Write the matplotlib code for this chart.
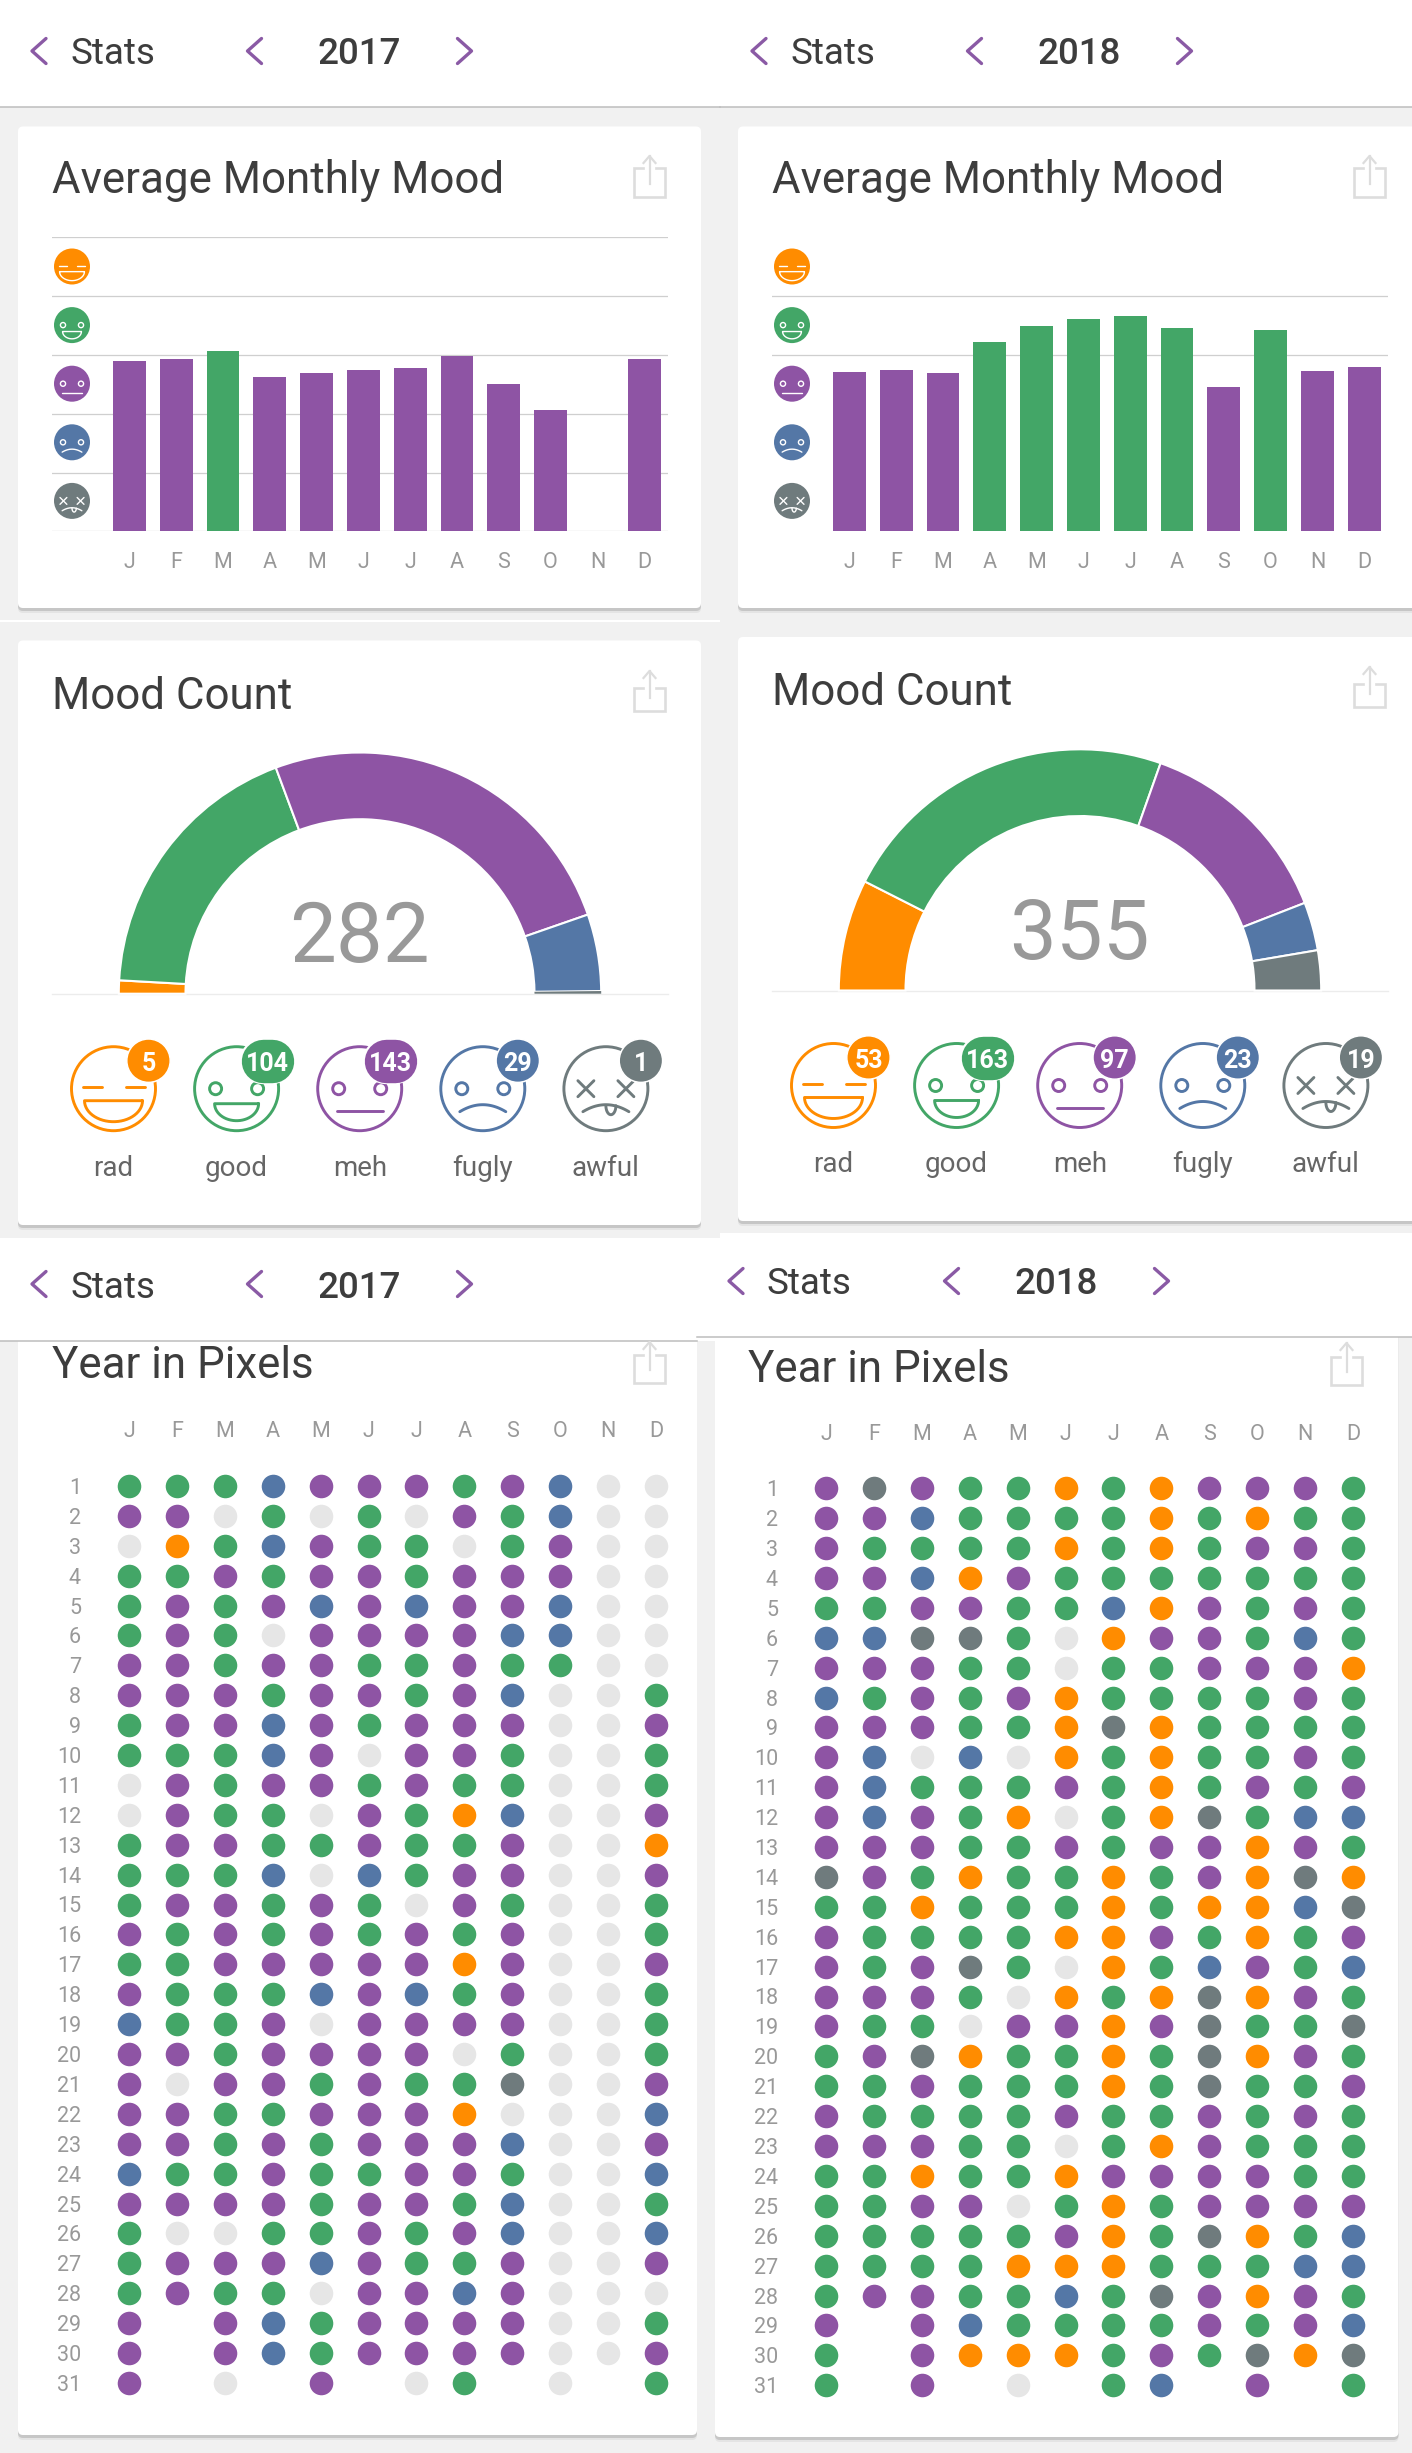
import numpy as np
import matplotlib
matplotlib.use("Agg")
import matplotlib.pyplot as plt
from matplotlib.patches import Circle, FancyBboxPatch, Rectangle

plt.rcParams['font.family'] = ['Roboto', 'DejaVu Sans']

W, H = 1412, 2453

MONTHS = ['J', 'F', 'M', 'A', 'M', 'J', 'J', 'A', 'S', 'O', 'N', 'D']
MOODS = ['rad', 'good', 'meh', 'fugly', 'awful']

ORANGE = '#FF8C00'
GREEN = '#43A667'
PURPLE = '#8E54A4'
BLUE = '#5477A6'
GRAY = '#6F7B7D'
EMPTY = '#E6E6E6'
MOOD_COLORS = [ORANGE, GREEN, PURPLE, BLUE, GRAY]
PIXEL_COLORS = {'R': ORANGE, 'G': GREEN, 'M': PURPLE, 'F': BLUE, 'A': GRAY, '_': EMPTY}

BG = '#F1F1F1'
DARK = '#3D3D3D'
CHEVRON = '#8A5AA5'

# average mood per month, 0 = bottom of "awful" band, 5 = top of "rad" band
AVG_2017 = [2.89, 2.92, 3.06, 2.63, 2.69, 2.735, 2.78, 2.98, 2.50, 2.07, 0, 2.93]
AVG_2018 = [2.715, 2.735, 2.695, 3.21, 3.49, 3.61, 3.66, 3.45, 2.45, 3.42, 2.72, 2.80]

COUNT_2017 = [5, 104, 143, 29, 1]
COUNT_2018 = [53, 163, 97, 23, 19]

# one string per day, one letter per month. "." = the day does not exist
PIXELS_2017 = [
    "GGGFMMMGMF__", "MM_G_G_MGF__", "_RGFMGG_GM__", "GGMGMMGMMM__",
    "GMGMFMFMMF__", "GMG_MMMMFF__", "MMGMMGGMGG__", "MMMGMMGMF__G",
    "GMMFMGMMM__M", "GGGFM_MMG__G", "_MGMMGMGG__G", "_MGG_MGRF__M",
    "GMMGGMGGM__R", "GGGF_FGMM__M", "GMMGMG_MG__G", "MGMGMGMGM__G",
    "GGMMMMMRM__M", "MGGGFMFGM__G", "FGGM_MMMM__G", "MMGMMMM_G__G",
    "M_MMGMGGA__M", "MMGGMMMR___F", "MMGMGMMMF__M", "FGGMGGMMG__F",
    "MMMMGMMGF__G", "G__GGMGMF__F", "GMMMFMGGM__M", "GMGG_MMFM___",
    "M.MFGMMMM__G", "M.MFGMMMM__M", "M._.M._G._.G",
]

PIXELS_2018 = [
    "MAMGGRGRMMMG", "MMFGGGGRGRGG", "MGGGGRGRGMMG", "MMFRMGGGGGGG",
    "GGMMGGFRMGMG", "FFAAG_RMMGFG", "MMMGG_GGMMMR", "FGMGMRGGGGMG",
    "MMMGGRARGGGG", "MF_F_RGRGGMG", "MFGGGMGRGMGM", "MFMGR_GRAGFF",
    "MMMGGMGMMRMG", "AMGRGGRGMRAR", "GGRGGGRGRRFA", "MGGGGRRMGRGM",
    "MGMAG_RGFMGF", "MMMG_RGRARMG", "MGG_MMRMAGGA", "GMARGGRGARMG",
    "GGMGGGRGAGGM", "MGGGGMGGMGMG", "MMMGG_GRMGGG", "GGRGGRMMMMGG",
    "GGMM_GRGMMMM", "GGGGGMRGARGF", "GGGGRRRGGGFF", "GMMGGFGAMRMG",
    "M.MFGGGGMGMF", "G.MRRRGMGARA", "G.M._.GF.M.G",
]

fig = plt.figure(figsize=(W / 100, H / 100), dpi=100, facecolor=BG)


def px_axes(left, top, right, bottom, zorder=2):
    a = fig.add_axes([left / W, 1 - bottom / H, (right - left) / W, (bottom - top) / H], zorder=zorder)
    a.patch.set_alpha(0)
    return a


ui = px_axes(0, 0, W, H, zorder=1)
ui.set_xlim(0, W)
ui.set_ylim(H, 0)
ui.axis('off')


def card(x0, y0, x1, y1):
    for off, col in [(5, '#E4E4E4'), (3, '#C6C6C6')]:
        ui.add_patch(FancyBboxPatch((x0, y0 + off), x1 - x0, y1 - y0, boxstyle='round,pad=0,rounding_size=5',
                                    fc=col, ec='none', zorder=1))
    ui.add_patch(FancyBboxPatch((x0, y0), x1 - x0, y1 - y0, boxstyle='round,pad=0,rounding_size=5',
                                fc='white', ec='none', zorder=1.1))


def chevron(x, y, direction):
    ui.plot([x - direction * 7, x + direction * 7, x - direction * 7], [y - 12.5, y, y + 12.5],
            color=CHEVRON, lw=2.4, solid_capstyle='round', solid_joinstyle='round', zorder=5)


def header(x0, x1, top, bottom, dx, cy, year, line_x0=None, line_x1=None):
    ui.add_patch(Rectangle((x0, top), x1 - x0, bottom - top, fc='white', ec='none', zorder=4))
    ui.plot([x0 if line_x0 is None else line_x0, x1 if line_x1 is None else line_x1], [bottom, bottom],
            color='#BDBDBD', lw=1.1, zorder=5)
    chevron(39 + dx, cy, -1)
    chevron(254.5 + dx, cy, -1)
    chevron(464.5 + dx, cy, 1)
    ui.text(70 + dx, cy + 13.5, 'Stats', fontsize=26.5, color=DARK, va='baseline', zorder=5)
    ui.text(359 + dx, cy + 13.5, year, fontsize=26.5, fontweight='medium', color=DARK, ha='center', va='baseline', zorder=5)


def share(x, box_top, box_bottom, arrow_top, zorder=6):
    col = '#DDDDDD'
    xs = [x + 9, x, x, x + 31, x + 31, x + 22]
    ys = [box_top, box_top, box_bottom, box_bottom, box_top, box_top]
    ui.plot(xs, ys, color=col, lw=1.9, solid_joinstyle='miter', zorder=zorder)
    ui.plot([x + 15.5, x + 15.5], [arrow_top, box_bottom - 13], color=col, lw=1.6, zorder=zorder)
    ui.plot([x + 9.5, x + 15.5, x + 21.5], [arrow_top + 7, arrow_top, arrow_top + 7], color=col, lw=1.6, zorder=zorder)


def face(cx, cy, r, mood, color, filled):
    s = r / 42
    lw = 1.0 if filled else 2.1
    line = 'white' if filled else color
    z = 3

    def pl(x, y):
        ui.plot(cx + np.asarray(x) * s, cy + np.asarray(y) * s, color=line, lw=lw, zorder=z, solid_capstyle='round')

    if filled:
        ui.add_patch(Circle((cx, cy), r, fc=color, ec='none', zorder=z))
    else:
        ui.add_patch(Circle((cx, cy), r, fc='white', ec=color, lw=lw, zorder=z))
    t = np.linspace(0, np.pi, 30)
    if mood == 'rad':
        pl([-31, -12], [-2, -2])
        pl([12, 31], [-2, -2])
        pl(np.r_[29 * np.cos(t), 29], np.r_[12 + 21 * np.sin(t), 12])
    else:
        if mood == 'awful':
            for ex in (-20, 20):
                pl([ex - 8, ex + 8], [-8, 8])
                pl([ex - 8, ex + 8], [8, -8])
        else:
            for ex in (-21, 21):
                ui.add_patch(Circle((cx + ex * s, cy), 6 * s, fc='none', ec=line, lw=lw, zorder=z))
        if mood == 'good':
            pl(np.r_[22 * np.cos(t), 22], np.r_[15 + 17 * np.sin(t), 15])
        elif mood == 'meh':
            pl([-23, 23], [22, 22])
        else:
            x = np.linspace(-23, 23, 30)
            pl(x, 23 - 7 * (1 - (x / 23) ** 2))
            if mood == 'awful':
                pl(5 + 5 * np.cos(t), 17 + 9 * np.sin(t))


def badge(cx, cy, value, color):
    txt = str(value)
    r = 21.7
    if len(txt) == 3:
        # pill: thick line with round caps, widths are in points
        half = 4.6
        ui.plot([cx - half, cx + half], [cy, cy], color='white', lw=(2 * r + 3) * 0.72, solid_capstyle='round', zorder=3.4)
        ui.plot([cx - half, cx + half], [cy, cy], color=color, lw=2 * r * 0.72, solid_capstyle='round', zorder=3.5)
    else:
        ui.add_patch(Circle((cx, cy), r, fc=color, ec='white', lw=1.1, zorder=3.5))
    ui.text(cx, cy + 0.5, txt, color='white', fontsize=18, fontweight='bold', ha='center', va='center_baseline', zorder=4)


def bar_panel(values, left, first_x, grid_levels):
    spacing = 46.8
    x_min = (left - first_x) / spacing
    x_max = x_min + 616 / spacing
    a = px_axes(left, 237, left + 616, 531.4)
    colors = [GREEN if v >= 3 else PURPLE for v in values]
    a.bar(range(12), values, width=0.705, color=colors, zorder=3)
    a.set_xlim(x_min, x_max)
    a.set_ylim(0, 5)
    a.set_xticks(range(12), MONTHS)
    a.set_yticks(grid_levels)
    a.set_yticklabels([])
    a.grid(axis='y', color='#CFCFCF', lw=0.9, zorder=0)
    a.tick_params(axis='both', length=0)
    a.tick_params(axis='x', pad=14.5, labelsize=15.5, labelcolor='#999999')
    for sp in a.spines.values():
        sp.set_visible(False)
    for i, mood in enumerate(MOODS):
        face(left + 20, 266.5 + 58.6 * i, 18, mood, MOOD_COLORS[i], True)


def gauge_panel(counts, cx, base_y, total_y):
    r = 240
    a = px_axes(cx - r, base_y - r, cx + r, base_y)
    wedges, _ = a.pie(counts + [sum(counts)], colors=MOOD_COLORS + ['white'], startangle=180, counterclock=False,
                      radius=1.005, wedgeprops={'width': 0.278, 'edgecolor': 'white', 'linewidth': 1.5})
    wedges[-1].set_visible(False)
    # a one-day slice would vanish under its own white edge
    for w, n in zip(wedges, counts):
        if n / sum(counts) < 0.01:
            w.set_linewidth(0)
    a.set_xlim(-1, 1)
    a.set_ylim(0, 1)
    ui.plot([cx - 308, cx + 308], [base_y, base_y], color='#ECECEC', lw=1, zorder=2)
    ui.text(cx - 1, total_y, str(sum(counts)), fontsize=60, color='#999999', ha='center', va='baseline', zorder=3)
    for i, mood in enumerate(MOODS):
        fx = cx - 246.5 + 123.1 * i
        fy = base_y + 95
        face(fx, fy, 42, mood, MOOD_COLORS[i], False)
        off = 31 if counts[i] >= 100 else 35
        badge(fx + off, fy - 28, counts[i], MOOD_COLORS[i])
        ui.text(fx, base_y + 182, mood, fontsize=20, color='#666666', ha='center', va='baseline', zorder=3)


def pixel_panel(rows, first_x, first_y):
    dx = 47.88
    dy = 29.9
    a = px_axes(first_x - dx / 2, first_y - dy / 2, first_x + 11.5 * dx, first_y + 30.5 * dy)
    for day, row in enumerate(rows, start=1):
        for month, code in enumerate(row):
            if code != '.':
                a.scatter(month, day, s=288, color=PIXEL_COLORS[code], linewidths=0, zorder=3)
    a.set_xlim(-0.5, 11.5)
    a.set_ylim(31.5, 0.5)
    a.set_xticks(range(12), MONTHS)
    a.set_yticks(range(1, 32))
    a.xaxis.tick_top()
    a.tick_params(axis='both', length=0, labelcolor='#999999')
    a.tick_params(axis='x', pad=20.5, labelsize=15.5)
    a.tick_params(axis='y', pad=17.5, labelsize=15.5)
    for sp in a.spines.values():
        sp.set_visible(False)


# background pieces and cards
card(18, 126.5, 701, 608)
card(738, 126.5, 1430, 608)
card(18, 640.5, 701, 1225)
card(738, 637, 1430, 1221)
card(18, 1300, 697, 2435)
card(715, 1300, 1398.5, 2437)
ui.add_patch(Rectangle((0, 620), 720, 2, fc='white', ec='none', zorder=1))

header(0, 720, -2, 107, 0, 51, '2017')
header(720, W, -2, 107, 720, 51, '2018')
header(0, 720, 1237.5, 1340.5, 0, 1284, '2017', line_x1=697)
header(720, W, 1233, 1337, 697, 1281, '2018', line_x0=697)
ui.add_patch(Rectangle((697, 1233), 23, 104, fc='white', ec='none', zorder=4))
ui.add_patch(Rectangle((697, 1233), 23, 4.5, fc=BG, ec='none', zorder=4.1))

# titles
for x, y, s in [(52, 193.5, 'Average Monthly Mood'), (772, 193.5, 'Average Monthly Mood'),
                (52, 709, 'Mood Count'), (772, 705, 'Mood Count'),
                (52, 1378, 'Year in Pixels'), (748, 1381.5, 'Year in Pixels')]:
    ui.text(x, y, s, fontsize=31.6, color=DARK, va='baseline', zorder=6)

share(634, 168, 197, 156)
share(1354, 168, 197, 156)
share(634, 688, 711, 671)
share(1354, 684, 707, 667)
share(634, 1355, 1382.5, 1342)
share(1331, 1357, 1385, 1343)

bar_panel(AVG_2017, 52, 129.4, [0, 1, 2, 3, 4, 5])
bar_panel(AVG_2018, 772, 849.4, [3, 4])

gauge_panel(COUNT_2017, 360, 993.7, 962)
gauge_panel(COUNT_2018, 1080, 990.5, 958.5)

pixel_panel(PIXELS_2017, 129.2, 1485.9)
pixel_panel(PIXELS_2018, 826.2, 1488.2)

fig.savefig('out.png', dpi=100, facecolor=BG)
